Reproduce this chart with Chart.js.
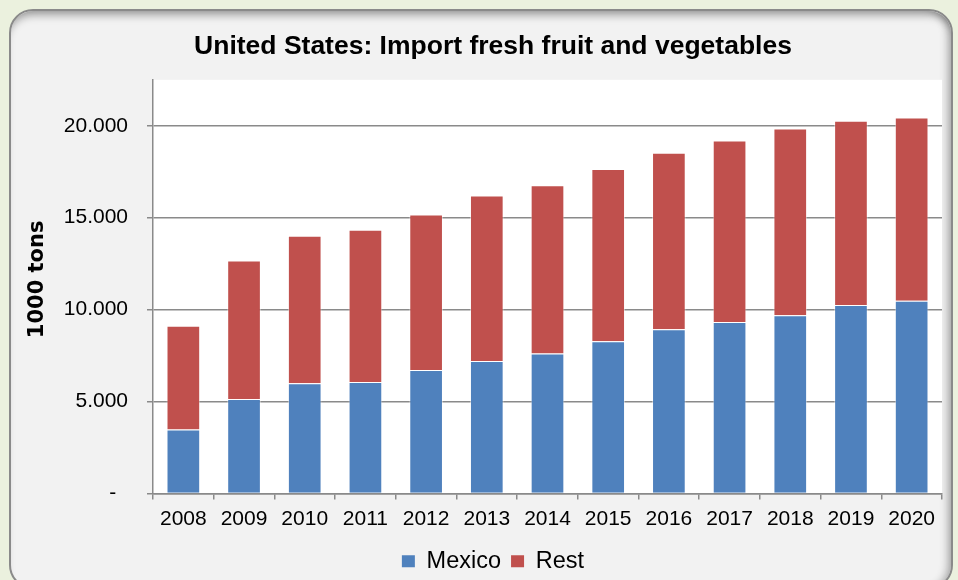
<!DOCTYPE html>
<html>
<head>
<meta charset="utf-8">
<script src="https://cdn.jsdelivr.net/npm/chart.js@4.4.1/dist/chart.umd.min.js"></script>
<style>
    html, body { margin: 0; padding: 0; }
    body { width: 958px; height: 580px; background: #ebf1de; overflow: hidden; position: relative; }
    .card {
        position: absolute; left: 9px; top: 9px; width: 940px; height: 576px;
        background: #f2f2f2; border: 2px solid #8a8a8a; border-radius: 24px;
        box-shadow: inset 0 9px 8px -5px rgba(0,0,0,0.35), inset -8px 0 8px -5px rgba(0,0,0,0.3);
    }
    .wrap { position: absolute; left: 10px; top: 9px; width: 964px; height: 574px; }
</style>
</head>
<body>
<div class="card"></div>
<div class="wrap"><canvas id="chart"></canvas></div>
<script>
// Импорт свежих фруктов и овощей в США, 1000 т
const years = ['2008', '2009', '2010', '2011', '2012', '2013', '2014', '2015', '2016', '2017', '2018', '2019', '2020'];
const mexico = [3480, 5145, 5990, 6065, 6715, 7200, 7615, 8285, 8935, 9330, 9695, 10250, 10485];
const rest = [5650, 7525, 8035, 8285, 8465, 9005, 9150, 9370, 9600, 9870, 10155, 10020, 9965];
const yTicks = [0, 5000, 10000, 15000, 20000];

const GRID = '#8a8a8a';
const SANS = "'Liberation Sans', Arial, sans-serif";

// белый фон области построения
const plotBg = {
    id: 'plotBg',
    beforeDraw(chart) {
        const a = chart.chartArea;
        const ctx = chart.ctx;
        ctx.save();
        ctx.fillStyle = '#ffffff';
        ctx.fillRect(a.left, a.top, a.right - a.left, a.bottom - a.top);
        ctx.restore();
    }
};

function fmt(v) {
    if (v === 0) return '-  ';
    return String(v).replace(/\B(?=(\d{3})+(?!\d))/g, '.');
}

new Chart(document.getElementById('chart'), {
    type: 'bar',
    data: {
        labels: years,
        datasets: [
            { label: 'Mexico', data: mexico, backgroundColor: '#4f81bd', borderColor: 'rgba(255,255,255,0.45)', borderWidth: 1 },
            { label: 'Rest', data: rest, backgroundColor: '#c0504d', borderColor: 'rgba(255,255,255,0.45)', borderWidth: 1 }
        ]
    },
    options: {
        responsive: true,
        maintainAspectRatio: false,
        animation: false,
        layout: { padding: { left: 34, right: 32, top: 0, bottom: 0 } },
        datasets: { bar: { categoryPercentage: 1, barPercentage: 0.555 } },
        plugins: {
            title: {
                display: true,
                text: 'United States: Import fresh fruit and vegetables',
                color: '#000',
                font: { family: SANS, size: 26.5, weight: 'bold' },
                padding: { top: 21.5, bottom: 17.5 }
            },
            legend: {
                position: 'bottom',
                labels: {
                    color: '#000',
                    font: { family: SANS, size: 23.5 },
                    boxWidth: 13,
                    boxHeight: 12,
                    padding: 10,
                    // квадратики легенды без белой обводки
                    generateLabels: chart => Chart.defaults.plugins.legend.labels.generateLabels(chart)
                        .map(l => ({ ...l, lineWidth: 0 }))
                }
            },
            tooltip: { enabled: false }
        },
        scales: {
            x: {
                stacked: true,
                grid: { drawOnChartArea: false, drawTicks: true, tickLength: 6, color: GRID, lineWidth: 1.5 },
                border: { color: GRID, width: 1.5 },
                ticks: { color: '#000', font: { family: SANS, size: 21 }, padding: 7, maxRotation: 0, autoSkip: false },
                afterFit(s) { s.height = 46; }
            },
            y: {
                stacked: true,
                min: 0,
                max: 22500,
                afterBuildTicks(s) { s.ticks = yTicks.map(v => ({ value: v })); },
                afterFit(s) { s.width = 109; },
                grid: { color: GRID, lineWidth: 1.5, tickLength: 6 },
                border: { color: GRID, width: 1.5 },
                ticks: { color: '#000', font: { family: SANS, size: 21 }, padding: 19, callback: v => fmt(v) },
                title: {
                    display: true,
                    text: '  1000 tons',
                    color: '#000',
                    font: { family: "'DejaVu Sans', sans-serif", size: 21, weight: 'bold' },
                    padding: { top: -19, bottom: 0 }
                }
            }
        }
    },
    plugins: [plotBg]
});
</script>
</body>
</html>
